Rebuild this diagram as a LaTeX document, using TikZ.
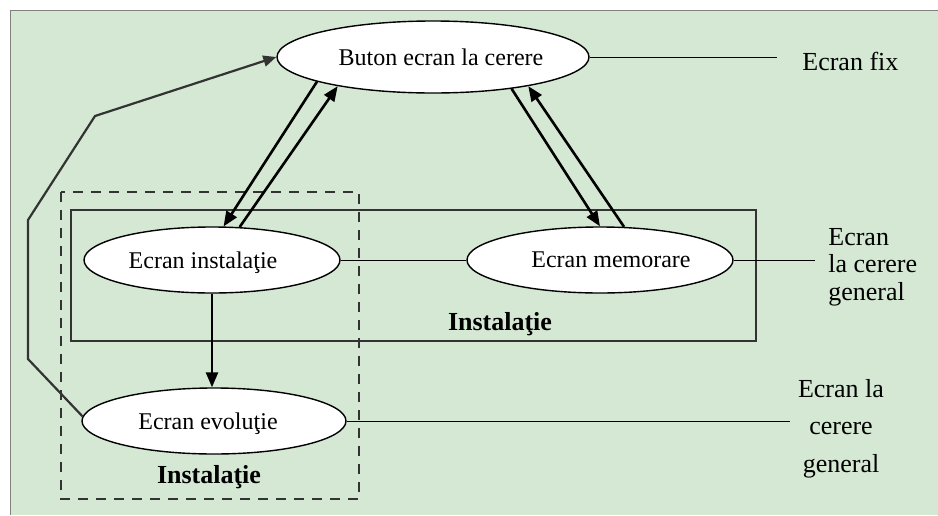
\documentclass[tikz,border=0pt]{standalone}
\usepackage{fontspec}
\setmainfont{Liberation Serif}
\usetikzlibrary{arrows.meta,shapes.geometric}
\definecolor{bggreen}{RGB}{213,232,212}
\definecolor{framegray}{RGB}{128,128,128}
\definecolor{darkline}{RGB}{51,51,51}
\begin{document}
\begin{tikzpicture}[x=0.5pt,y=-0.5pt,
  state/.style={ellipse,draw=black,line width=0.7pt,fill=white,inner sep=0pt,text depth=0pt,font=\fontsize{12}{14}\selectfont},
  biarrow/.style={line width=1.3pt,-{Triangle[length=7.5pt,width=6pt]}},
  thinline/.style={line width=0.5pt,draw=black},
  feedback/.style={draw=darkline,line width=1.1pt,-{Triangle[length=6.5pt,width=5.5pt]}},
  lbl/.style={font=\fontsize{13}{14}\selectfont,inner sep=0pt},
  grp/.style={font=\bfseries\fontsize{13}{14}\selectfont,inner sep=0pt},
  groupbox/.style={draw=darkline,line width=0.8pt},
  dashbox/.style={draw=darkline,line width=0.8pt,dash pattern=on 5pt off 4pt}
]
\useasboundingbox (0,0) rectangle (938,515);
\fill[bggreen] (10,10) rectangle (938,515);
\draw[framegray,line width=0.5pt] (10,515) -- (10,10) -- (938,10);

% group frames
\draw[dashbox] (61,192) rectangle (359,499);
\draw[groupbox] (71,210) rectangle (756,341);

% states
\node[state,minimum width=156pt,minimum height=36pt] (B) at (433,57) {\hspace*{8pt}Buton ecran la cerere};
\node[state,minimum width=128pt,minimum height=33pt] (I) at (212,260) {Ecran instalaţie\hspace*{9pt}};
\node[state,minimum width=133pt,minimum height=33pt] (M) at (600,260) {\hspace*{11pt}Ecran memorare};
\node[state,minimum width=132pt,minimum height=33pt] (E) at (214,421) {Ecran evoluţie\hspace*{6pt}};

% labels
\node[grp,anchor=base] (g1) at (500,330) {Instalaţie};
\node[grp,anchor=base] (g2) at (209,483) {Instalaţie};
\node[lbl,anchor=base west] (fix) at (802,70) {Ecran fix};
\node[lbl,anchor=base west,align=left,font=\fontsize{13}{13.75}\selectfont] (gen1) at (828,300) {Ecran\\la cerere\\general};
\node[lbl,anchor=base,align=center,font=\fontsize{13}{18.75}\selectfont] (gen2) at (841,472) {Ecran la\\cerere\\general};

\coordinate (fixend) at (777,57);
\coordinate (gen1end) at (815,260);
\coordinate (gen2end) at (790,421);

% thin connectors
\draw[thinline] (B.east) -- (fixend);
\draw[thinline] (I.east) -- (M.west);
\draw[thinline] (M.east) -- (gen1end);
\draw[thinline] (E.east) -- (gen2end);

% arrows
\draw[biarrow] (B.192) -- (I.71);
\draw[biarrow] (I.50) -- (B.197);
\draw[biarrow] (B.338) -- (M.90);
\draw[biarrow] (M.54) -- (B.343);
\draw[biarrow] (I.south) -- (I.south |- E.north);
\draw[feedback] (E.178) -- (28,359) -- (28,220) -- (95,116) -- (B.west);
\end{tikzpicture}
\end{document}
